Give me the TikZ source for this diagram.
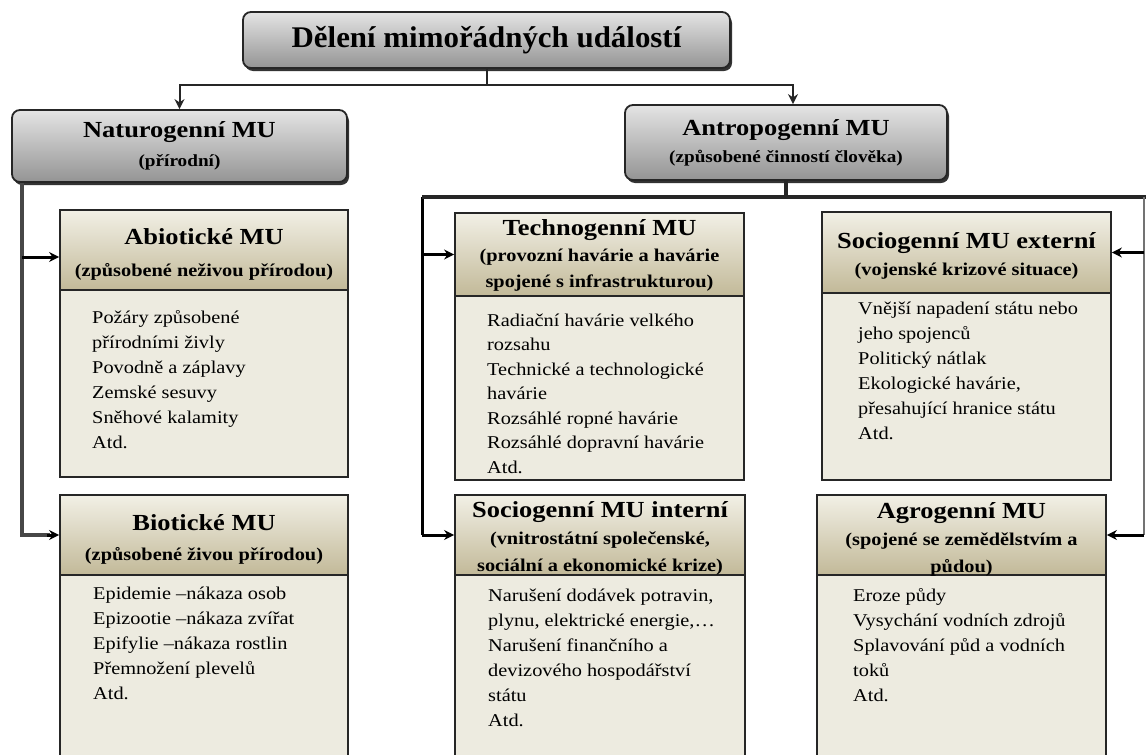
\documentclass[tikz,border=0pt]{standalone}
\usepackage{fontspec}
\setmainfont{Liberation Serif}
\newfontfamily\wideserif[FakeStretch=1.13]{Liberation Serif}
\newfontfamily\headserif[FakeStretch=1.15]{Liberation Serif}
\newfontfamily\titleserif[FakeStretch=1.03]{Liberation Serif}
\usetikzlibrary{arrows.meta,shadows}

\definecolor{tanlight}{RGB}{242,240,230}
\definecolor{tandark}{RGB}{194,185,152}
\definecolor{bodyfill}{RGB}{237,235,224}
\definecolor{greylight}{RGB}{228,228,228}
\definecolor{greydark}{RGB}{148,148,148}
\definecolor{edge}{RGB}{38,38,38}

\tikzset{
  roundbox/.style={rounded corners=8pt, draw=edge, line width=1.8pt,
    top color=greylight, bottom color=greydark, inner sep=0pt, align=center,
    drop shadow={shadow xshift=2pt, shadow yshift=-3pt, fill=black!80, opacity=1}},
  hdr/.style={draw=edge, line width=1.8pt, top color=tanlight, bottom color=tandark,
    inner sep=0pt},
  hdrtext/.style={inner sep=0pt, align=center,
    font=\wideserif\fontsize{18}{27}\selectfont\bfseries},
  bodybox/.style={draw=edge, line width=1.8pt, fill=bodyfill, inner sep=0pt},
  bodytext/.style={anchor=north west, inner sep=0pt, align=left,
    font=\wideserif\fontsize{18}{25}\selectfont},
  tip/.style={-{Stealth[length=10pt,width=10pt]}},
  lnk/.style={draw=black!85, line width=2pt},
  heavy/.style={draw=black!85, line width=4pt},
  trunk/.style={draw=black!72, line width=4pt},
  rail/.style={draw=black!55, line width=1.5pt},
  branch/.style={draw=black, line width=3pt},
}

\begin{document}
\begin{tikzpicture}[x=1pt,y=-1pt]
\useasboundingbox (0,0) rectangle (1146,755);
\clip (0,0) rectangle (1146,755);
\fill[white] (0,0) rectangle (1146,755);

% top level
\node[roundbox, minimum width=487pt, minimum height=56pt,
  font=\titleserif\fontsize{30}{32}\selectfont\bfseries] (title) at (486.5,40)
  {Dělení mimořádných událostí};

\node[roundbox, minimum width=335pt, minimum height=72pt,
  font=\wideserif\fontsize{17}{29}\selectfont\bfseries] (nat) at (179.5,146)
  {{\headserif\fontsize{23}{29}\selectfont Naturogenní MU}\\(přírodní)};

\node[roundbox, minimum width=322pt, minimum height=75pt,
  font=\wideserif\fontsize{17}{27}\selectfont\bfseries] (ant) at (786,142.5)
  {{\headserif\fontsize{23}{27}\selectfont Antropogenní MU}\\(způsobené činností člověka)};

% natural branch
\node[bodybox, minimum width=288pt, minimum height=187pt] (abB) at (204,383.5) {};
\node[hdr, minimum width=288pt, minimum height=80pt] (abH) at (204,250) {};
\node[hdrtext] (abHt) at ([yshift=-4pt]abH.center)
  {{\headserif\fontsize{23}{27}\selectfont Abiotické MU}\\[5pt](způsobené neživou přírodou)};
\node[bodytext] (abT) at (92,306)
  {\strut Požáry způsobené\\přírodními živly\\Povodně a záplavy\\Zemské sesuvy\\Sněhové kalamity\\Atd.};

\node[bodybox, minimum width=288pt, minimum height=200pt] (bioB) at (204,675) {};
\node[hdr, minimum width=288pt, minimum height=80pt] (bioH) at (204,535) {};
\node[hdrtext] (bioHt) at ([yshift=-4pt]bioH.center)
  {{\headserif\fontsize{23}{27}\selectfont Biotické MU}\\[3pt](způsobené živou přírodou)};
\node[bodytext] (bioT) at (93,582)
  {\strut Epidemie –nákaza osob\\Epizootie –nákaza zvířat\\Epifylie –nákaza rostlin\\Přemnožení plevelů\\Atd.};

% technogenic and internal social
\node[bodybox, minimum width=289pt, minimum height=184pt] (techB) at (599.5,388) {};
\node[hdr, minimum width=289pt, minimum height=83pt] (techH) at (599.5,254.5) {};
\node[hdrtext, font=\wideserif\fontsize{18}{26}\selectfont\bfseries] (techHt) at ([yshift=-1pt]techH.center)
  {{\headserif\fontsize{23}{26}\selectfont Technogenní MU}\\(provozní havárie a havárie\\spojené s infrastrukturou)};
\node[bodytext, font=\wideserif\fontsize{18}{24.5}\selectfont] (techT) at (487,309)
  {\strut Radiační havárie velkého\\rozsahu\\Technické a technologické\\havárie\\Rozsáhlé ropné havárie\\Rozsáhlé dopravní havárie\\Atd.};

\node[bodybox, minimum width=290pt, minimum height=200pt] (sintB) at (600,675) {};
\node[hdr, minimum width=290pt, minimum height=80pt] (sintH) at (600,535) {};
\node[hdrtext] (sintHt) at ([yshift=-3pt]sintH.center)
  {{\headserif\fontsize{23}{27}\selectfont Sociogenní MU interní}\\(vnitrostátní společenské,\\sociální a ekonomické krize)};
\node[bodytext] (sintT) at (488,584)
  {\strut Narušení dodávek potravin,\\plynu, elektrické energie,…\\Narušení finančního a\\devizového hospodářství\\státu\\Atd.};

% external social and agricultural
\node[bodybox, minimum width=289pt, minimum height=187pt] (extB) at (966.5,386.5) {};
\node[hdr, minimum width=289pt, minimum height=81pt] (extH) at (966.5,252.5) {};
\node[hdrtext] (extHt) at ([yshift=-3pt]extH.center)
  {{\headserif\fontsize{23}{27}\selectfont Sociogenní MU externí}\\(vojenské krizové situace)};
\node[bodytext] (extT) at (858,297)
  {\strut Vnější napadení státu nebo\\jeho spojenců\\Politický nátlak\\Ekologické havárie,\\přesahující hranice státu\\Atd.};

\node[bodybox, minimum width=289pt, minimum height=200pt] (agroB) at (961.5,675) {};
\node[hdr, minimum width=289pt, minimum height=80pt] (agroH) at (961.5,535) {};
\node[hdrtext] (agroHt) at ([yshift=-4pt]agroH.center)
  {{\headserif\fontsize{23}{27}\selectfont Agrogenní MU}\\(spojené se zemědělstvím a\\půdou)};
\node[bodytext] (agroT) at (853,584)
  {\strut Eroze půdy\\Vysychání vodních zdrojů\\Splavování půd a vodních\\toků\\Atd.};

% connectors from the title
\coordinate (tj) at (486.5,85);
\draw[lnk] (title.south) -- (tj);
\draw[lnk,tip] (tj) -| (nat.north);
\draw[lnk,tip] (tj) -| ([xshift=7pt]ant.north);

% natural trunk
\coordinate (ntrunk) at ([xshift=11pt]nat.south west);
\draw[trunk] (ntrunk) |- ([xshift=-9pt]bioH.west);
\draw[branch,tip] ([xshift=-12pt]bioH.west) -- (bioH.west);
\draw[branch,tip] (ntrunk |- abH.west) ++(0,7) -- ([yshift=-7pt]abH.west);

% anthropogenic bus
\coordinate (abarL) at (422,197);
\coordinate (abarR) at (1146,197);
\coordinate (railtop) at (1144,197);
\draw[heavy] (ant.south) -- (ant.south |- abarL);
\draw[branch] (abarL) -- (abarL |- sintH.west);
\draw[heavy] (abarL) -- (abarR);
\draw[branch,tip] (abarL |- techH.west) -- (techH.west);
\draw[branch,tip] (abarL |- sintH.west) -- (sintH.west);
\draw[rail] (railtop) -- (railtop |- agroH.east);
\draw[branch,tip] (railtop |- extH.east) -- (extH.east);
\draw[branch,tip] (railtop |- agroH.east) -- (agroH.east);
\end{tikzpicture}
\end{document}
